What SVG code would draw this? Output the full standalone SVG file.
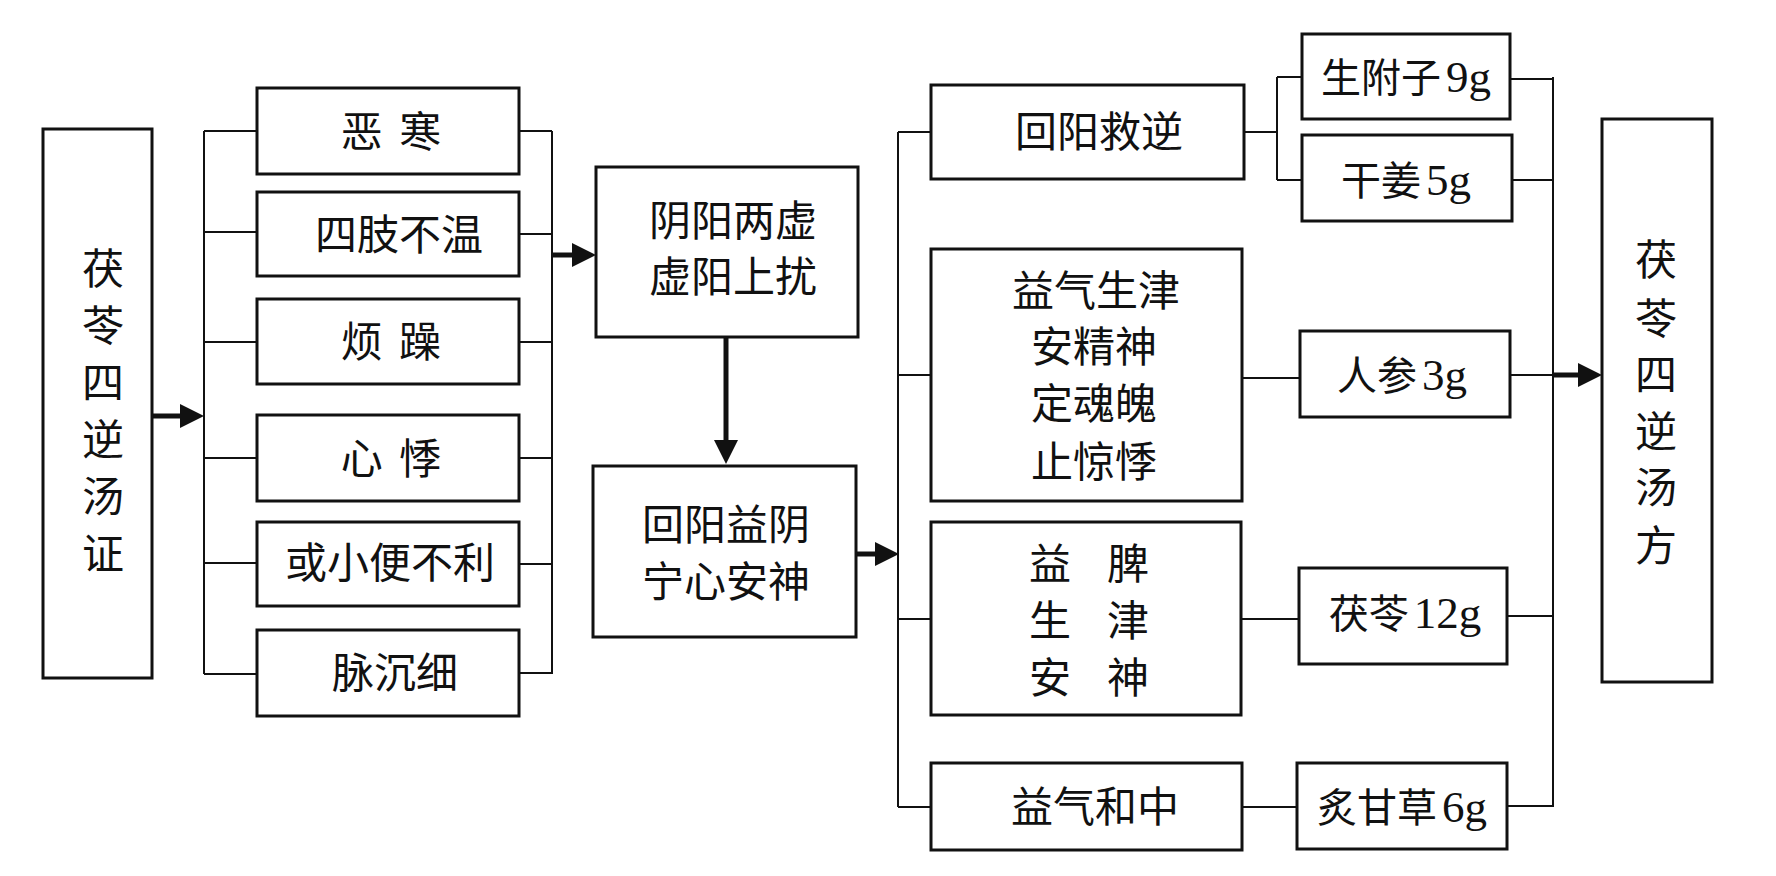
<svg xmlns="http://www.w3.org/2000/svg" width="1776" height="876" viewBox="0 0 1776 876">
<style>
.box{fill:#fff;stroke:#111;stroke-width:3}
.ln{fill:none;stroke:#111;stroke-width:2}
.ar{fill:none;stroke:#111;stroke-width:5}
text{font-family:"Liberation Serif","Noto Sans CJK SC",serif;font-size:42px;fill:#111;text-anchor:middle}
text.herb{font-size:40px}
tspan.num{font-size:45px}
</style>
<defs>
<marker id="ah" markerUnits="userSpaceOnUse" markerWidth="25" markerHeight="25" refX="12" refY="12" orient="auto">
<path d="M0,0 L24,12 L0,24 Z" fill="#111"/>
</marker>
</defs>
<rect width="1776" height="876" fill="#fff"/>

<g id="connectors">
<path class="ln" d="M204,131 V674 M204,131 H257 M204,232 H257 M204,342 H257 M204,458 H257 M204,563 H257 M204,674 H257"/>
<path class="ln" d="M552,131 V674 M519,131 H552 M519,234 H552 M519,342 H552 M519,458 H552 M519,564 H552 M519,673 H552"/>
<path class="ln" d="M898,132 V807 M898,132 H931 M898,375 H931 M898,619 H931 M898,807 H931"/>
<path class="ln" d="M1244,132 H1277 M1277,77 V180 M1277,77 H1302 M1277,180 H1302"/>
<path class="ln" d="M1242,378 H1300 M1241,619 H1299 M1242,807 H1297"/>
<path class="ln" d="M1553,77 V807 M1510,79 H1553 M1512,180 H1553 M1510,375 H1553 M1507,616 H1553 M1507,806 H1553"/>
<path class="ar" d="M153,416 H192" marker-end="url(#ah)"/>
<path class="ar" d="M552,255 H584" marker-end="url(#ah)"/>
<path class="ar" d="M726,337 V452" marker-end="url(#ah)"/>
<path class="ar" d="M856,554 H887" marker-end="url(#ah)"/>
<path class="ar" d="M1553,375 H1590" marker-end="url(#ah)"/>
</g>

<g id="n-left">
<rect class="box" x="43" y="129" width="109" height="549"/>
<text x="103" y="284">茯</text><text x="103" y="341">苓</text><text x="103" y="398">四</text><text x="103" y="455">逆</text><text x="103" y="512">汤</text><text x="103" y="569">证</text>
</g>
<g id="n-s1"><rect class="box" x="257" y="88" width="262" height="86"/><text x="391" y="147" word-spacing="6">恶 寒</text></g>
<g id="n-s2"><rect class="box" x="257" y="192" width="262" height="84"/><text x="399" y="250">四肢不温</text></g>
<g id="n-s3"><rect class="box" x="257" y="299" width="262" height="85"/><text x="391" y="357" word-spacing="6">烦 躁</text></g>
<g id="n-s4"><rect class="box" x="257" y="415" width="262" height="86"/><text x="391" y="474" word-spacing="6">心 悸</text></g>
<g id="n-s5"><rect class="box" x="257" y="522" width="262" height="84"/><text x="390" y="578">或小便不利</text></g>
<g id="n-s6"><rect class="box" x="257" y="630" width="262" height="86"/><text x="395" y="688">脉沉细</text></g>

<g id="n-m1"><rect class="box" x="596" y="167" width="262" height="170"/><text x="733" y="236">阴阳两虚</text><text x="733" y="292">虚阳上扰</text></g>
<g id="n-m2"><rect class="box" x="593" y="466" width="263" height="171"/><text x="726" y="540">回阳益阴</text><text x="726" y="597">宁心安神</text></g>

<g id="n-r1"><rect class="box" x="931" y="85" width="313" height="94"/><text x="1099" y="147">回阳救逆</text></g>
<g id="n-r2"><rect class="box" x="931" y="249" width="311" height="252"/><text x="1096" y="306">益气生津</text><text x="1094" y="362">安精神</text><text x="1094" y="419">定魂魄</text><text x="1094" y="477">止惊悸</text></g>
<g id="n-r3"><rect class="box" x="931" y="522" width="310" height="193"/>
<text y="579"><tspan x="1050">益</tspan><tspan x="1128">脾</tspan></text>
<text y="636"><tspan x="1050">生</tspan><tspan x="1128">津</tspan></text>
<text y="693"><tspan x="1050">安</tspan><tspan x="1128">神</tspan></text></g>
<g id="n-r4"><rect class="box" x="931" y="763" width="311" height="87"/><text x="1095" y="822">益气和中</text></g>

<g id="n-h1"><rect class="box" x="1302" y="34" width="208" height="85"/><text class="herb" x="1406" y="92">生附子<tspan class="num" dx="5">9g</tspan></text></g>
<g id="n-h2"><rect class="box" x="1302" y="135" width="210" height="86"/><text class="herb" x="1406" y="195">干姜<tspan class="num" dx="5">5g</tspan></text></g>
<g id="n-h3"><rect class="box" x="1300" y="331" width="210" height="86"/><text class="herb" x="1402" y="390">人参<tspan class="num" dx="5">3g</tspan></text></g>
<g id="n-h4"><rect class="box" x="1299" y="568" width="208" height="96"/><text class="herb" x="1405" y="628">茯苓<tspan class="num" dx="5">12g</tspan></text></g>
<g id="n-h5"><rect class="box" x="1297" y="763" width="210" height="86"/><text class="herb" x="1402" y="822">炙甘草<tspan class="num" dx="5">6g</tspan></text></g>

<g id="n-final">
<rect class="box" x="1602" y="119" width="110" height="563"/>
<text x="1656" y="275">茯</text><text x="1656" y="334">苓</text><text x="1656" y="390">四</text><text x="1656" y="447">逆</text><text x="1656" y="503">汤</text><text x="1656" y="561">方</text>
</g>
</svg>
